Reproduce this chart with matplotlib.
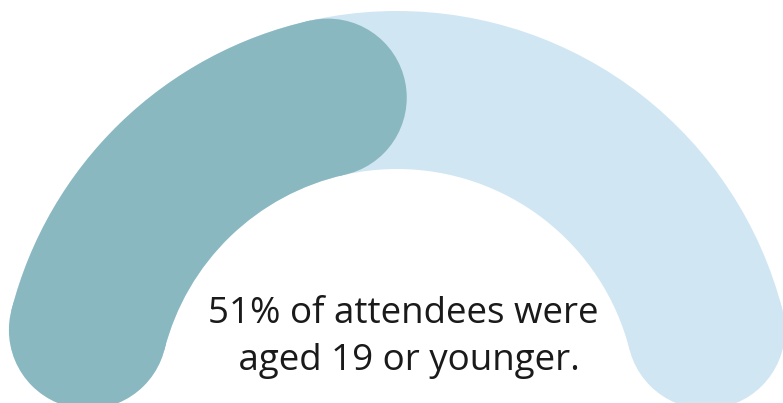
import numpy as np
import matplotlib
matplotlib.use("Agg")
import matplotlib.pyplot as plt
from matplotlib.patches import Wedge, Circle

# ---- data ----
value_pct = 51          # share of attendees aged 19 or younger
total_pct = 100
label_lines = ["51% of attendees were", " aged 19 or younger."]
track_color = "#D1E6F3"
value_color = "#8AB8C1"

# ---- layout (pixel space) ----
W, H = 783, 403
cx, cy = 397, -6        # gauge centre
r_mid = 319             # mid radius of the band
band = 158              # band thickness

fig = plt.figure(figsize=(W / 100, H / 100), dpi=100)
ax = fig.add_axes([0, 0, 1, 1])
ax.set_xlim(0, W)
ax.set_ylim(0, H)
ax.set_aspect("equal")
ax.axis("off")

cap = band / 2
delta = np.degrees(np.arcsin(cap / r_mid))


def pct_to_angle(p):
    return 180.0 - 180.0 * p / total_pct


def rounded_segment(p0, p1, color, z):
    a_start = pct_to_angle(p0) - delta
    a_end = pct_to_angle(p1) + delta
    ax.add_patch(Wedge((cx, cy), r_mid + cap, a_end, a_start, width=band,
                       facecolor=color, edgecolor="none", zorder=z))
    for a in (a_start, a_end):
        t = np.radians(a)
        ax.add_patch(Circle((cx + r_mid * np.cos(t), cy + r_mid * np.sin(t)), cap,
                            facecolor=color, edgecolor="none", zorder=z))


rounded_segment(0, total_pct, track_color, 1)
rounded_segment(0, value_pct, value_color, 2)

ax.text(403, H - 323, label_lines[0], ha="center", va="baseline",
        fontsize=26.5, family=["Open Sans", "DejaVu Sans"], color="#1a1a1a", zorder=3)
ax.text(404, H - 370, label_lines[1], ha="center", va="baseline",
        fontsize=26.5, family=["Open Sans", "DejaVu Sans"], color="#1a1a1a", zorder=3)

fig.savefig("out.png", dpi=100)
